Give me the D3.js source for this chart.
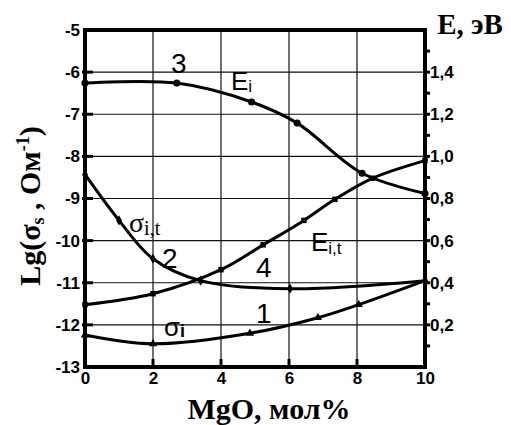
<!DOCTYPE html>
<html>
<head>
<meta charset="utf-8">
<script src="https://cdn.jsdelivr.net/npm/d3@7"></script>
<style>
  html, body { margin: 0; padding: 0; background: #fff; }
  svg { display: block; }
</style>
</head>
<body>
<div id="chart"></div>
<script>
/* MgO chart: two conductivity curves (left axis) + two energy curves (right axis) */

// ---- data ----
const xTicks = [0, 2, 4, 6, 8, 10];
const lgTicks = [-13, -12, -11, -10, -9, -8, -7, -6, -5];
const eTicks = [0.2, 0.4, 0.6, 0.8, 1.0, 1.2, 1.4];

// 1: sigma_i (triangles, left axis)
const sigI_x = [0, 2, 4.85, 6.85, 8.05, 10];
const sigI_y = [-12.24, -12.45, -12.2, -11.83, -11.52, -10.95];
// 2: sigma_i,t (diamonds, left axis)
const sigIT_x = [0, 1, 2, 3.4, 6.03, 10];
const sigIT_y = [-8.43, -9.52, -10.43, -10.95, -11.14, -10.95];
// 3: E_i (circles, right axis)
const eI_x = [0, 2.7, 4.9, 6.24, 8.15, 10];
const eI_y = [1.348, 1.348, 1.258, 1.158, 0.92, 0.824];
// 4: E_i,t (squares, right axis)
const eIT_x = [0, 2, 4, 5.24, 6.44, 7.35, 8.45, 10];
const eIT_y = [0.296, 0.348, 0.462, 0.58, 0.696, 0.796, 0.896, 0.98];

// ---- layout ----
const W = 511, H = 425;
const L = 85, R = 425, T = 30, B = 367;

const svg = d3.select("#chart").append("svg")
  .attr("width", W).attr("height", H);

const x = d3.scaleLinear().domain([0, 10]).range([L, R]);
const yL = d3.scaleLinear().domain([-13, -5]).range([B, T]);
const yR = d3.scaleLinear().domain([0, 1.6]).range([B, T]);

const SANS = "'Liberation Sans', Arial, sans-serif";
const SERIF = "'Liberation Serif', 'Times New Roman', serif";

// grid
const grid = svg.append("g").attr("stroke", "#111").attr("stroke-width", 1.2);
grid.selectAll("line.gx").data(xTicks.filter(d => d > 0 && d < 10)).join("line")
  .attr("class", "gx")
  .attr("x1", d => x(d)).attr("x2", d => x(d))
  .attr("y1", T).attr("y2", B);
grid.selectAll("line.gy").data(lgTicks.filter(d => d > -13 && d < -5)).join("line")
  .attr("class", "gy")
  .attr("x1", L).attr("x2", R)
  .attr("y1", d => yL(d)).attr("y2", d => yL(d));

// axes (custom styled ticks)
const axL = svg.append("g").attr("transform", `translate(${L},0)`)
  .call(d3.axisLeft(yL).tickValues(lgTicks).tickSize(0).tickPadding(5).tickFormat(d => d3.format("d")(d).replace("−", "-")));
axL.select(".domain").remove();
axL.selectAll("text").attr("font-family", SANS).attr("font-weight", "bold")
  .attr("font-size", 17).attr("fill", "#000");

svg.append("g").selectAll("line").data(lgTicks.filter(d => d > -13 && d < -5)).join("line")
  .attr("x1", L - 3).attr("x2", L + 8)
  .attr("y1", d => yL(d)).attr("y2", d => yL(d))
  .attr("stroke", "#000").attr("stroke-width", 3);

const axB = svg.append("g").attr("transform", `translate(0,${B})`)
  .call(d3.axisBottom(x).tickValues(xTicks).tickSize(0).tickPadding(5).tickFormat(d3.format("d")));
axB.select(".domain").remove();
axB.selectAll("text").attr("font-family", SANS).attr("font-weight", "bold")
  .attr("font-size", 17).attr("fill", "#000");

svg.append("g").selectAll("line").data(xTicks.filter(d => d > 0 && d < 10)).join("line")
  .attr("x1", d => x(d)).attr("x2", d => x(d))
  .attr("y1", B).attr("y2", B - 8)
  .attr("stroke", "#000").attr("stroke-width", 3);

const axR = svg.append("g").attr("transform", `translate(${R},0)`)
  .call(d3.axisRight(yR).tickValues(eTicks).tickSize(0).tickPadding(5)
    .tickFormat(d => d3.format(".1f")(d).replace(".", ",")));
axR.select(".domain").remove();
axR.selectAll("text").attr("font-family", SANS).attr("font-weight", "bold")
  .attr("font-size", 17).attr("fill", "#000");

svg.append("g").selectAll("line").data(d3.range(1, 16).map(i => i / 10)).join("line")
  .attr("x1", R).attr("x2", R + 5)
  .attr("y1", d => yR(d)).attr("y2", d => yR(d))
  .attr("stroke", "#000").attr("stroke-width", 3);

// frame
svg.append("rect")
  .attr("x", L).attr("y", T).attr("width", R - L).attr("height", B - T)
  .attr("fill", "none").attr("stroke", "#000").attr("stroke-width", 4);

// ---- curves ----
const series = [
  { xs: sigI_x, ys: sigI_y, y: yL, sym: d3.symbolTriangle, size: 30 },
  { xs: sigIT_x, ys: sigIT_y, y: yL, sym: d3.symbolDiamond, size: 30 },
  { xs: eI_x, ys: eI_y, y: yR, sym: d3.symbolCircle, size: 40 },
  { xs: eIT_x, ys: eIT_y, y: yR, sym: d3.symbolSquare, size: 30 }
];

series.forEach(s => {
  const pts = s.xs.map((v, i) => [v, s.ys[i]]);
  const line = d3.line().curve(d3.curveCatmullRom.alpha(0.5))
    .x(d => x(d[0])).y(d => s.y(d[1]));
  svg.append("path").attr("d", line(pts))
    .attr("fill", "none").attr("stroke", "#000").attr("stroke-width", 3);
  svg.append("g").selectAll("path").data(pts).join("path")
    .attr("transform", d => `translate(${x(d[0])},${s.y(d[1])})`)
    .attr("d", d3.symbol(s.sym, s.size))
    .attr("fill", "#000");
});

// ---- curve labels ----
function lbl(tx, ty, str, size, fam) {
  return svg.append("text").attr("x", tx).attr("y", ty)
    .attr("font-family", fam).attr("font-size", size).attr("fill", "#000").text(str);
}
lbl(171, 73, "3", 28, SANS);
lbl(162, 268, "2", 28, SANS);
lbl(256, 277, "4", 28, SANS);
lbl(256, 323, "1", 28, SANS);

const ei = lbl(231, 90, "E", 26, SANS);
ei.append("tspan").attr("font-size", 17).attr("dy", 2).text("i");
const eit = lbl(311, 251, "E", 26, SANS);
eit.append("tspan").attr("font-size", 17).attr("dy", 3).text("i,t");
const sit = lbl(129, 232, "σ", 28, SERIF);
sit.append("tspan").attr("font-size", 20).attr("dy", 3).text("i,t");
const si = lbl(164, 336, "σ", 26, SANS);
si.append("tspan").attr("font-size", 18).attr("dy", 1).attr("font-weight", "bold").text("i");

// ---- axis titles ----
svg.append("text").attr("x", 269).attr("y", 419).attr("text-anchor", "middle")
  .attr("font-family", SERIF).attr("font-weight", "bold").attr("font-size", 30)
  .text("MgO, мол%");

svg.append("text").attr("x", 470).attr("y", 34).attr("text-anchor", "middle")
  .attr("font-family", SERIF).attr("font-weight", "bold").attr("font-size", 29)
  .text("E, эВ");

const yt = svg.append("text")
  .attr("transform", "translate(40,206) rotate(-90)")
  .attr("text-anchor", "middle")
  .attr("font-family", SERIF).attr("font-weight", "bold").attr("font-size", 30);
yt.append("tspan").text("Lg(σ");
yt.append("tspan").attr("font-size", 18).attr("dy", 4).text("s");
yt.append("tspan").attr("dy", -4).text(" , Ом");
yt.append("tspan").attr("font-size", 18).attr("dy", -11).text("-1");
yt.append("tspan").attr("dy", 11).text(")");
</script>
</body>
</html>
